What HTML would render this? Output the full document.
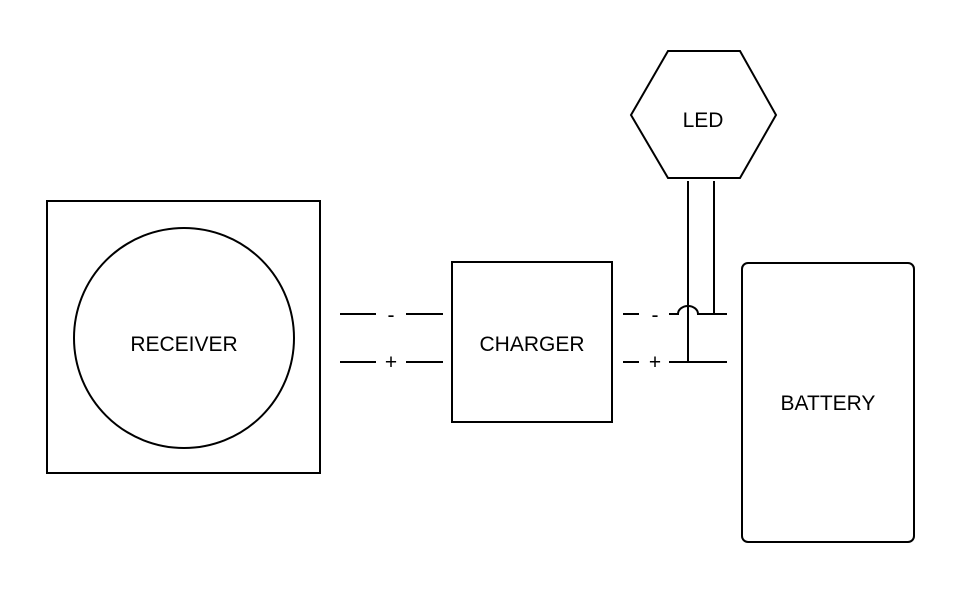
<!DOCTYPE html><html><head><style>body{margin:0;background:#fff}</style></head><body>
<svg width="972" height="602" xmlns="http://www.w3.org/2000/svg" font-family="Liberation Sans, sans-serif" font-size="21">
<g fill="none" stroke="#000" stroke-width="2">
<rect x="47" y="201" width="273" height="272"/>
<circle cx="184" cy="338" r="110"/>
<rect x="452" y="262" width="160" height="160"/>
<rect x="742" y="263" width="172" height="279" rx="6"/>
<polygon points="631,115 668,51 740,51 776,115 740,178 668,178"/>
<line x1="340" y1="314" x2="376" y2="314"/><line x1="406" y1="314" x2="443" y2="314"/>
<line x1="340" y1="362" x2="376" y2="362"/><line x1="406" y1="362" x2="443" y2="362"/>
<line x1="623" y1="314" x2="639" y2="314"/>
<path d="M669,314 H678 A10,8 0 0 1 698,314 H727"/>
<line x1="623" y1="362" x2="639" y2="362"/><line x1="669" y1="362" x2="727" y2="362"/>
<line x1="688" y1="181" x2="688" y2="362"/>
<line x1="714" y1="181" x2="714" y2="314"/>
</g>
<g fill="#000" text-anchor="middle">
<text x="184" y="351">RECEIVER</text>
<text x="532" y="351">CHARGER</text>
<text x="828" y="410">BATTERY</text>
<text x="703" y="127">LED</text>
<text x="391" y="322">-</text><text x="391" y="369">+</text>
<text x="655" y="322">-</text><text x="655" y="369">+</text>
</g>
</svg></body></html>
